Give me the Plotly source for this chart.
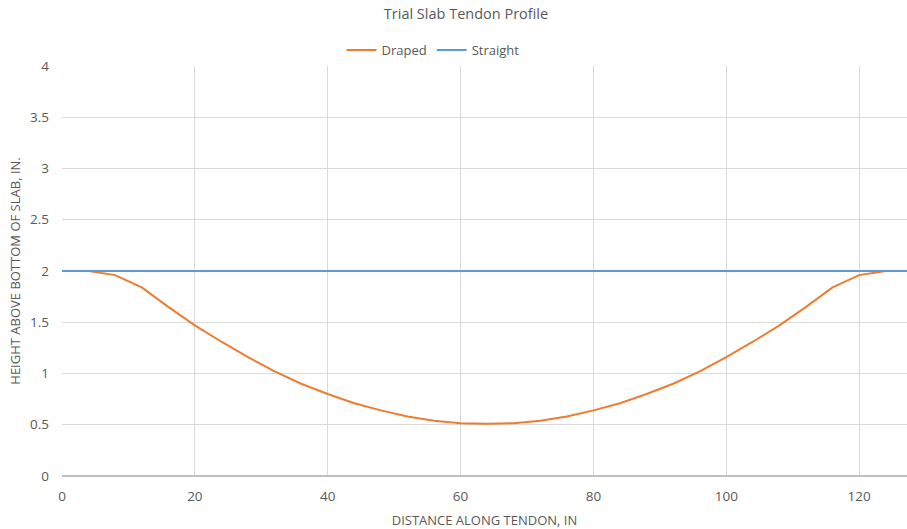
import plotly.graph_objects as go

# Tendon profile data (distance in inches, height in inches)
draped_x = [4, 8, 12, 16, 20, 24, 28, 32, 36, 40, 44, 48, 52, 56, 60, 64,
            68, 72, 76, 80, 84, 88, 92, 96, 100, 104, 108, 112, 116, 120, 124]
draped_y = [2.00, 1.96, 1.84, 1.65, 1.47, 1.31, 1.16, 1.02, 0.90, 0.80, 0.71,
            0.64, 0.58, 0.54, 0.515, 0.51, 0.515, 0.54, 0.58, 0.64, 0.71, 0.80,
            0.90, 1.02, 1.16, 1.31, 1.47, 1.65, 1.84, 1.96, 2.00]
straight_x = [0, 128]
straight_y = [2.0, 2.0]

font_family = "Open Sans, sans-serif"
text_color = "#595959"
grid_color = "#d9d9d9"

fig = go.Figure()
fig.add_trace(go.Scatter(x=draped_x, y=draped_y, mode="lines", name="Draped",
                         line=dict(color="#ed7d31", width=2)))
fig.add_trace(go.Scatter(x=straight_x, y=straight_y, mode="lines", name="Straight",
                         line=dict(color="#5b9bd5", width=2)))

fig.update_layout(
    width=907, height=529,
    margin=dict(l=62, r=0, t=66, b=53, autoexpand=False),
    paper_bgcolor="white", plot_bgcolor="white",
    font=dict(family=font_family, color=text_color, size=13),
    title=dict(text="Trial Slab Tendon Profile", x=466 / 907, xanchor="center",
               y=1 - 14 / 529, yanchor="middle",
               font=dict(size=14.5, color=text_color, family=font_family)),
    legend=dict(orientation="h", x=433 / 907, xref="container", xanchor="center",
                y=1 - 50 / 529, yref="container", yanchor="middle",
                font=dict(size=13, color=text_color),
                traceorder="normal", itemwidth=30),
    showlegend=True,
)

fig.update_xaxes(
    range=[0, 127.2], tickvals=[0, 20, 40, 60, 80, 100, 120],
    showgrid=True, gridcolor=grid_color, gridwidth=1,
    zeroline=False, showline=False, ticks="", ticklabelstandoff=10,
    tickfont=dict(size=13.5, color=text_color),
    title=dict(text="DISTANCE ALONG TENDON, IN", font=dict(size=13, color=text_color),
               standoff=14),
)
fig.update_yaxes(
    range=[0, 4], tickvals=[0, 0.5, 1, 1.5, 2, 2.5, 3, 3.5, 4],
    ticktext=["0", "0.5", "1", "1.5", "2", "2.5", "3", "3.5", "4"],
    showgrid=True, gridcolor=grid_color, gridwidth=1,
    zeroline=True, zerolinecolor="#bfbfbf", zerolinewidth=1.5,
    showline=False, ticks="", ticklabelstandoff=12,
    tickfont=dict(size=13.5, color=text_color),
    title=dict(text="HEIGHT ABOVE BOTTOM OF SLAB, IN.", font=dict(size=13, color=text_color),
               standoff=6),
)

fig.write_html("out.html")
